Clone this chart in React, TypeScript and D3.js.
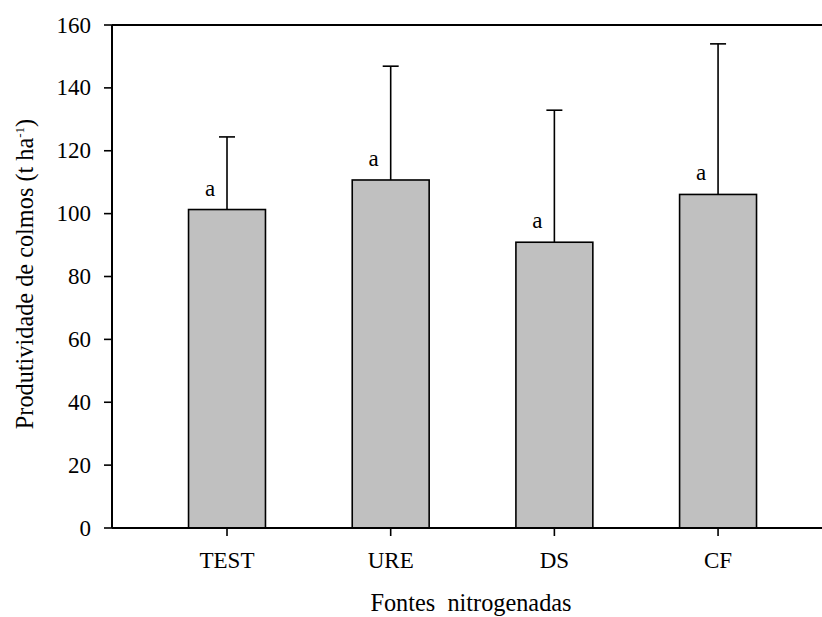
import React from "react";
import * as d3 from "d3";

const categories = ["TEST", "URE", "DS", "CF"];
const means = [101.3, 110.7, 90.9, 106.1];
const errTops = [124.4, 146.9, 132.9, 154.0];
const letters = ["a", "a", "a", "a"];
const yTicks = [0, 20, 40, 60, 80, 100, 120, 140, 160];

const W = 822;
const H = 617;
const left = 112;
const right = 822;
const top = 25;
const bottom = 528;

export default function App() {
  const x = d3.scaleLinear().domain([-0.7026, 3.635]).range([left, right]);
  const y = d3.scaleLinear().domain([0, 160]).range([bottom, top]);
  const barW = x(0.47) - x(0);
  const font = "'Liberation Serif', 'Times New Roman', serif";
  const fs = 23;
  const tfs = 24.3;
  return (
    <svg width={W} height={H} style={{ position: "absolute", left: 0, top: 0 }} fontFamily={font}>
      <rect width={W} height={H} fill="#fff" />
      {categories.map((c, i) => {
        const cx = x(i);
        return (
          <g key={c}>
            <line x1={cx} x2={cx} y1={y(means[i])} y2={y(errTops[i])} stroke="#000" strokeWidth={1.6} />
            <line x1={cx - 8} x2={cx + 8} y1={y(errTops[i])} y2={y(errTops[i])} stroke="#000" strokeWidth={1.6} />
            <rect x={cx - barW / 2} y={y(means[i])} width={barW} height={y(0) - y(means[i])} fill="#c0c0c0" stroke="#000" strokeWidth={1.6} />
            <text x={cx - 17} y={y(means[i]) - 14} fontSize={fs} textAnchor="middle">{letters[i]}</text>
            <line x1={cx} x2={cx} y1={bottom} y2={bottom + 8} stroke="#000" strokeWidth={1.6} />
            <text x={cx} y={568} fontSize={fs} textAnchor="middle">{c}</text>
          </g>
        );
      })}
      <line x1={left} x2={right} y1={top} y2={top} stroke="#000" strokeWidth={2} />
      <line x1={left} x2={right} y1={bottom} y2={bottom} stroke="#000" strokeWidth={2} />
      <line x1={left} x2={left} y1={top} y2={bottom} stroke="#000" strokeWidth={2} />
      {yTicks.map((t) => (
        <g key={t}>
          <line x1={left - 8} x2={left} y1={y(t)} y2={y(t)} stroke="#000" strokeWidth={1.6} />
          <text x={91} y={y(t) + 7.5} fontSize={fs} textAnchor="end">{t}</text>
        </g>
      ))}
      <text x={471} y={611} fontSize={tfs} textAnchor="middle" style={{ whiteSpace: "pre" }}>{"Fontes  nitrogenadas"}</text>
      <text transform="translate(33,274) rotate(-90)" fontSize={tfs} textAnchor="middle">
        Produtividade de colmos (t ha<tspan dy={-9} fontSize={13}>-1</tspan><tspan dy={9}>)</tspan>
      </text>
    </svg>
  );
}
